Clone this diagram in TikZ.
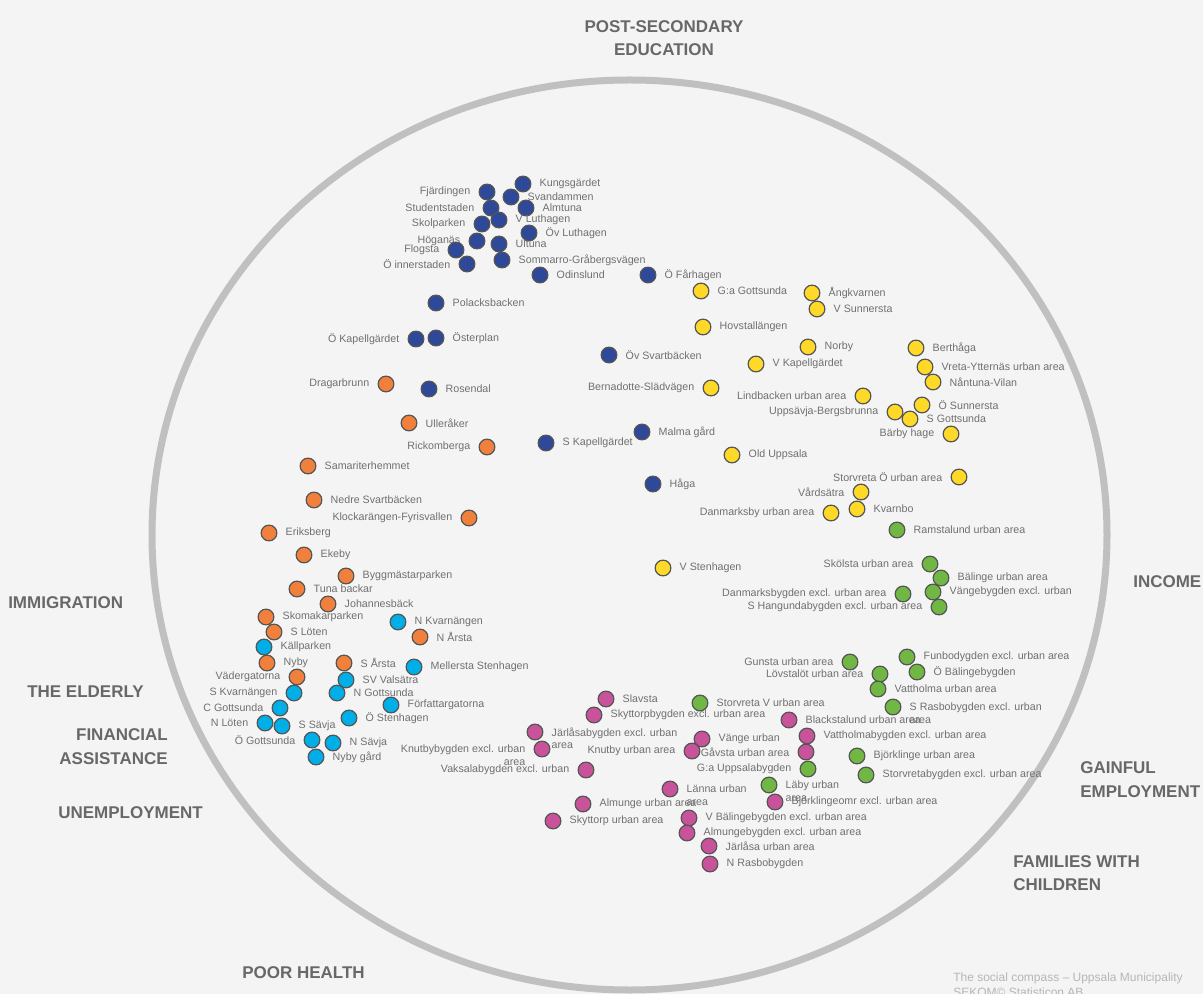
\documentclass[tikz,border=0pt]{standalone}
\usepackage{fontspec}
\setmainfont{Liberation Sans}
\usetikzlibrary{positioning}
\definecolor{bgc}{RGB}{244,244,244}
\definecolor{ringc}{RGB}{192,192,192}
\definecolor{labelc}{RGB}{112,112,112}
\definecolor{polec}{RGB}{104,104,104}
\definecolor{creditc}{RGB}{182,182,182}
\definecolor{rimc}{RGB}{85,85,85}
\definecolor{cblue}{RGB}{46,72,154}
\definecolor{cyellow}{RGB}{255,217,40}
\definecolor{corange}{RGB}{240,128,60}
\definecolor{cgreen}{RGB}{112,184,67}
\definecolor{ccyan}{RGB}{0,174,232}
\definecolor{cpink}{RGB}{201,83,154}
\begin{document}
\begin{tikzpicture}[x=0.75pt, y=-0.75pt, node distance=5pt,
    spot/.style={circle, draw=rimc, line width=0.9pt, minimum size=11.8pt, inner sep=0pt},
    spotname/.style={font=\fontsize{8}{9.4}\selectfont, text=labelc, inner sep=1pt},
    pole/.style={font=\fontsize{12.75}{17.5}\selectfont\bfseries, text=polec, inner sep=0pt},
    credit/.style={font=\fontsize{9}{11}\selectfont, text=creditc, inner sep=0pt}]
    \useasboundingbox (0,0) rectangle (1203,994);
    \fill[bgc] (0,0) rectangle (1203,994);
    \draw[ringc, line width=5.25pt] (629.5,535) ellipse (477.5 and 455);

    % compass headings
    \node (edu) at (664,38) [pole, align=center] {POST-SECONDARY\\EDUCATION};
    \node (income) at (1133,582) [pole, anchor=west] {INCOME};
    \node (gainful) at (1080,779.5) [pole, anchor=west, align=left] {GAINFUL\\EMPLOYMENT};
    \node (families) at (1013,873.4) [pole, anchor=west, align=left] {FAMILIES WITH\\CHILDREN};
    \node (immigration) at (8,603) [pole, anchor=west] {IMMIGRATION};
    \node (elderly) at (27,692) [pole, anchor=west] {THE ELDERLY};
    \node (financial) at (168,746.7) [pole, anchor=east, align=right] {FINANCIAL\\ASSISTANCE};
    \node (unemployment) at (58,813) [pole, anchor=west] {UNEMPLOYMENT};
    \node (health) at (242,973) [pole, anchor=west] {POOR HEALTH};
    \node (credit1) at (953,981) [credit, anchor=base west] {The social compass – Uppsala Municipality};
    \node (credit2) at (953,996) [credit, anchor=base west] {SEKOM© Statisticon AB};

    % blue areas
    \foreach \x/\y/\s/\t [count=\i] in {523/184/right/Kungsgärdet, 487/192/left/Fjärdingen,
        511/197/right/Svandammen, 491/208/left/Studentstaden, 526/208/right/Almtuna,
        499/220/right/V Luthagen, 482/224/left/Skolparken, 529/233/right/Öv Luthagen,
        477/241/left/Höganäs, 499/244/right/Ultuna, 456/250/left/Flogsta,
        467/264/left/Ö innerstaden, 502/260/right/Sommarro-Gråbergsvägen,
        540/275/right/Odinslund, 648/275/right/Ö Fårhagen, 436/303/right/Polacksbacken,
        416/339/left/Ö Kapellgärdet, 436/338/right/Österplan, 609/355/right/Öv Svartbäcken,
        429/389/right/Rosendal, 546/443/right/S Kapellgärdet, 642/432/right/Malma gård,
        653/484/right/Håga}{
        \node (b\i) at (\x,\y) [spot, fill=cblue] {};
        \node (b\i t) [spotname, \s=of b\i] {\t};
    }

    % yellow areas
    \foreach \x/\y/\s/\t [count=\i] in {701/291/right/G:a Gottsunda, 812/293/right/Ångkvarnen,
        817/309/right/V Sunnersta, 703/327/right/Hovstallängen, 808/347/right/Norby,
        916/348/right/Berthåga, 756/364/right/V Kapellgärdet,
        925/367/right/Vreta-Ytternäs urban area, 933/382/right/Nåntuna-Vilan,
        711/388/left/Bernadotte-Slädvägen, 863/396/left/Lindbacken urban area,
        922/405/right/Ö Sunnersta, 895/412/left/Uppsävja-Bergsbrunna,
        910/419/right/S Gottsunda, 951/434/left/Bärby hage, 732/455/right/Old Uppsala,
        959/477/left/Storvreta Ö urban area, 861/492/left/Vårdsätra, 857/509/right/Kvarnbo,
        831/513/left/Danmarksby urban area, 663/568/right/V Stenhagen}{
        \node (y\i) at (\x,\y) [spot, fill=cyellow] {};
        \node (y\i t) [spotname, \s=of y\i] {\t};
    }

    % green areas
    \foreach \x/\y/\s/\t [count=\i] in {897/530/right/Ramstalund urban area,
        930/564/left/Skölsta urban area, 941/578/right/Bälinge urban area,
        903/594/left/Danmarksbygden excl. urban area, 933/592/right/Vängebygden excl. urban,
        939/607/left/S Hangundabygden excl. urban area, 850/662/left/Gunsta urban area,
        907/657/right/Funbodygden excl. urban area, 880/674/left/Lövstalöt urban area,
        917/672/right/Ö Bälingebygden, 878/689/right/Vattholma urban area,
        700/703/right/Storvreta V urban area, 808/769/left/G:a Uppsalabygden,
        857/756/right/Björklinge urban area, 866/775/right/Storvretabygden excl. urban area}{
        \node (g\i) at (\x,\y) [spot, fill=cgreen] {};
        \node (g\i t) [spotname, \s=of g\i] {\t};
    }
    \node (g16) at (893,707) [spot, fill=cgreen] {};
    \node (g16 t) [spotname, align=left, right=of g16, yshift=-4.7pt] {S Rasbobygden excl. urban\\area};
    \node (g17) at (769,785) [spot, fill=cgreen] {};
    \node (g17 t) [spotname, align=left, right=of g17, yshift=-4.7pt] {Läby urban\\area};

    % orange areas
    \foreach \x/\y/\s/\t [count=\i] in {386/384/left/Dragarbrunn, 409/423/right/Ulleråker,
        487/447/left/Rickomberga, 308/466/right/Samariterhemmet,
        314/500/right/Nedre Svartbäcken, 469/518/left/Klockarängen-Fyrisvallen,
        269/533/right/Eriksberg, 304/555/right/Ekeby, 346/576/right/Byggmästarparken,
        297/589/right/Tuna backar, 328/604/right/Johannesbäck, 266/617/right/Skomakarparken,
        274/632/right/S Löten, 420/637/right/N Årsta, 267/663/right/Nyby,
        344/663/right/S Årsta, 297/677/left/Vädergatorna}{
        \node (o\i) at (\x,\y) [spot, fill=corange] {};
        \node (o\i t) [spotname, \s=of o\i] {\t};
    }

    % cyan areas
    \foreach \x/\y/\s/\t [count=\i] in {398/622/right/N Kvarnängen, 264/647/right/Källparken,
        414/667/right/Mellersta Stenhagen, 346/680/right/SV Valsätra,
        294/693/left/S Kvarnängen, 337/693/right/N Gottsunda,
        391/705/right/Författargatorna, 280/708/left/C Gottsunda,
        349/718/right/Ö Stenhagen, 265/723/left/N Löten, 282/726/right/S Sävja,
        312/740/left/Ö Gottsunda, 333/743/right/N Sävja, 316/757/right/Nyby gård}{
        \node (c\i) at (\x,\y) [spot, fill=ccyan] {};
        \node (c\i t) [spotname, \s=of c\i] {\t};
    }

    % pink areas
    \foreach \x/\y/\s/\t [count=\i] in {606/699/right/Slavsta,
        594/715/right/Skyttorpbygden excl. urban area, 789/720/right/Blackstalund urban area,
        807/736/right/Vattholmabygden excl. urban area, 702/739/right/Vänge urban,
        692/751/left/Knutby urban area, 806/752/left/Gåvsta urban area,
        586/770/left/Vaksalabygden excl. urban, 775/802/right/Björklingeomr excl. urban area,
        583/804/right/Almunge urban area, 553/821/right/Skyttorp urban area,
        689/818/right/V Bälingebygden excl. urban area,
        687/833/right/Almungebygden excl. urban area, 709/846/right/Järlåsa urban area,
        710/864/right/N Rasbobygden}{
        \node (m\i) at (\x,\y) [spot, fill=cpink] {};
        \node (m\i t) [spotname, \s=of m\i] {\t};
    }
    \node (m16) at (535,732) [spot, fill=cpink] {};
    \node (m16 t) [spotname, align=left, right=of m16, yshift=-4.7pt] {Järlåsabygden excl. urban\\area};
    \node (m17) at (542,749) [spot, fill=cpink] {};
    \node (m17 t) [spotname, align=right, left=of m17, yshift=-4.7pt] {Knutbybygden excl. urban\\area};
    \node (m18) at (670,789) [spot, fill=cpink] {};
    \node (m18 t) [spotname, align=left, right=of m18, yshift=-4.7pt] {Länna urban\\area};
\end{tikzpicture}
\end{document}
